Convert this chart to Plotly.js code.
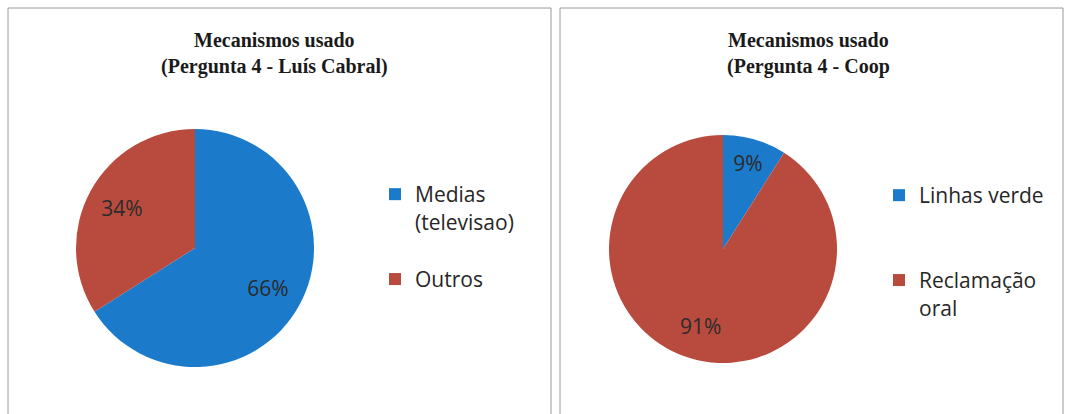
<!DOCTYPE html>
<html>
<head>
<meta charset="utf-8">
<script src="https://cdn.plot.ly/plotly-3.0.1.min.js"></script>
<style>html,body{margin:0;padding:0;background:#fff;}#chart{width:1067px;height:414px;}</style>
</head>
<body>
<div id="chart"></div>
<script>
// Chart 1: Pergunta 4 - Luís Cabral
const labels1 = ["Medias<br>(televisao)<br> ", "Outros"];
const values1 = [66, 34];
// Chart 2: Pergunta 4 - Coop
const labels2 = ["Linhas verde<br> <br> ", "Reclamação<br>oral"];
const values2 = [9, 91];
const title1 = "Mecanismos usado<br>(Pergunta 4 - Luís Cabral)";
const title2 = "Mecanismos usado<br>(Pergunta 4 - Coop";

const BLUE = "#1c7acb";
const RED = "#b94b3e";
const W = 1067, H = 414;
const px = v => v / W;
const py = v => 1 - v / H;

const dom1 = {x: [px(76), px(314)], y: [py(367), py(129)]};
const dom2 = {x: [px(609), px(837)], y: [py(363), py(135)]};
const labelFont = {family: "Open Sans, sans-serif", size: 21, color: "#2b2b2b"};

function pieTrace(labels, values, domain, legendId) {
  return {
    type: "pie", labels: labels, values: values, domain: domain,
    sort: false, direction: "clockwise", rotation: 0,
    textinfo: "none", hoverinfo: "label+percent",
    marker: {colors: [BLUE, RED], line: {width: 0}},
    legend: legendId
  };
}
function labelTrace(labels, values, domain) {
  return {
    type: "pie", labels: labels, values: values, domain: domain,
    sort: false, direction: "clockwise", rotation: 0, hole: 0.4,
    showlegend: false, hoverinfo: "skip",
    textinfo: "percent", texttemplate: "%{percent:.0%}",
    textposition: "inside", insidetextorientation: "horizontal",
    textfont: labelFont,
    marker: {colors: ["rgba(0,0,0,0)", "rgba(0,0,0,0)"], line: {width: 0}}
  };
}

const data = [
  pieTrace(labels1, values1, dom1, "legend"),
  pieTrace(labels2, values2, dom2, "legend2"),
  labelTrace(labels1, values1, dom1),
  labelTrace(labels2, values2, dom2)
];

const legendFont = {family: "Open Sans, sans-serif", size: 21, color: "#262626"};
const layout = {
  width: W, height: H,
  margin: {l: 0, r: 0, t: 0, b: 0},
  paper_bgcolor: "#fff",
  showlegend: true,
  legend: {x: px(375), y: py(174), xanchor: "left", yanchor: "top", valign: "top", font: legendFont, bgcolor: "rgba(0,0,0,0)", itemwidth: 30},
  legend2: {x: px(879), y: py(175), xanchor: "left", yanchor: "top", valign: "top", font: legendFont, bgcolor: "rgba(0,0,0,0)", itemwidth: 30},
  annotations: [
    {text: title1, xref: "paper", yref: "paper", x: px(275), y: py(27), xanchor: "center", yanchor: "top", showarrow: false,
     font: {family: "Liberation Serif, Times New Roman, serif", size: 20, color: "#1a1a1a", weight: "bold"}},
    {text: title2, xref: "paper", yref: "paper", x: px(808), y: py(27), xanchor: "center", yanchor: "top", showarrow: false,
     font: {family: "Liberation Serif, Times New Roman, serif", size: 20, color: "#1a1a1a", weight: "bold"}}
  ],
  shapes: [
    {type: "rect", xref: "paper", yref: "paper", x0: px(8), x1: px(551), y0: py(420), y1: py(8), line: {color: "#9a9a9a", width: 1}},
    {type: "rect", xref: "paper", yref: "paper", x0: px(560), x1: px(1063), y0: py(420), y1: py(8), line: {color: "#9a9a9a", width: 1}}
  ]
};

Plotly.newPlot("chart", data, layout, {displayModeBar: false, staticPlot: true});
</script>
</body>
</html>
